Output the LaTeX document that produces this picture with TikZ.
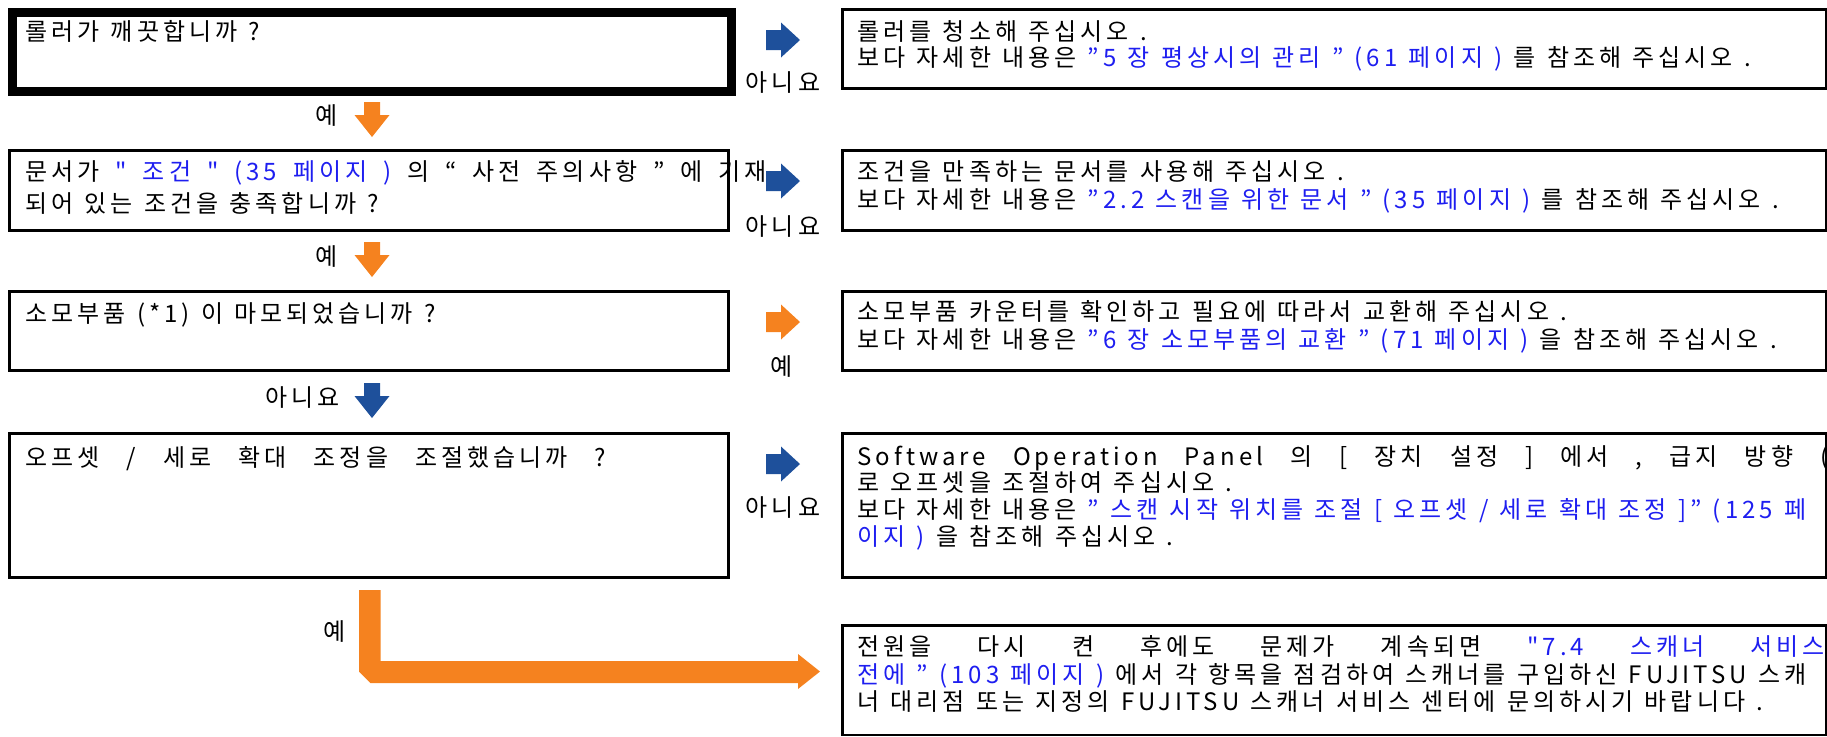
\documentclass[tikz,border=0pt]{standalone}
\usepackage{fontspec}
\setmainfont{Noto Sans CJK KR}[LetterSpace=16.7,WordSpace=1.2]
\newfontfamily\krtight{Noto Sans CJK KR}[LetterSpace=16.7,WordSpace=0.85]
\newfontfamily\krtighter{Noto Sans CJK KR}[LetterSpace=16.7,WordSpace=1.0]
\newfontfamily\krloose{Noto Sans CJK KR}[LetterSpace=16.7,WordSpace=1.7]
\definecolor{orangec}{RGB}{245,130,31}
\definecolor{bluearr}{RGB}{30,80,155}
\definecolor{linkblue}{RGB}{30,30,240}
\newcommand{\lk}[1]{\textcolor{linkblue}{#1}}
\newcommand{\txtfont}{\fontsize{12pt}{14pt}\selectfont}
\tikzset{
  qbox/.style={draw=black, line width=1.35pt, minimum width=359.5pt, inner sep=0pt, anchor=north west},
  thickbox/.style={qbox, line width=4.25pt},
  abox/.style={draw=black, line width=1.35pt, minimum width=492pt, inner sep=0pt, anchor=north west},
  tl/.style={anchor=base west, inner sep=0pt, font=\txtfont},
  tight/.style={font=\krtight\txtfont},
  tighter/.style={font=\krtighter\txtfont},
  loose/.style={font=\krloose\txtfont},
  lbl/.style={anchor=center, inner sep=0pt, font=\txtfont},
  dnarrow/.pic={\path[pic actions] (-8,0) -- ++(16,0) -- ++(0,13) -- ++(9.5,0) -- ++(-17.5,22) -- ++(-17.5,-22) -- ++(9.5,0) -- cycle;},
  rtarrow/.pic={\path[pic actions] (0,-10) -- ++(15,0) -- ++(0,-7.5) -- ++(19,17.5) -- ++(-19,17.5) -- ++(0,-7.5) -- ++(-15,0) -- cycle;}
}
\begin{document}
\begin{tikzpicture}[x=0.5pt,y=-0.5pt]
\useasboundingbox (0,0) rectangle (1827,736);

% left question boxes
\node[thickbox, minimum height=39.5pt] (q1) at (8,8) {};
\node[qbox, minimum height=40pt] (q2) at (8,149) {};
\node[qbox, minimum height=39.5pt] (q3) at (8,290) {};
\node[qbox, minimum height=72pt] (q4) at (8,432) {};

% right answer boxes
\node[abox, minimum height=39.5pt] (a1) at (841,8) {};
\node[abox, minimum height=40pt] (a2) at (841,149) {};
\node[abox, minimum height=39.5pt] (a3) at (841,290) {};
\node[abox, minimum height=72pt] (a4) at (841,432) {};
\node[abox, minimum height=54.75pt] (a5) at (841,624) {};

% texts of left boxes
\node[tl] (q1t) at (25,40.5) {롤러가 깨끗합니까 ?};
\node[tl, tighter] (q2t1) at (25,180.5) {문서가 \lk{" 조건 " (35 페이지 )} 의 “ 사전 주의사항 ” 에 기재};
\node[tl] (q2t2) at (25,212) {되어 있는 조건을 충족합니까 ?};
\node[tl] (q3t) at (25,322) {소모부품 (*1) 이 마모되었습니까 ?};
\node[tl, tight] (q4t) at (25,466.5) {오프셋 / 세로 확대 조정을 조절했습니까 ?};

% texts of right boxes
\node[tl] (a1t1) at (857,40.5) {롤러를 청소해 주십시오 .};
\node[tl] (a1t2) at (857,66) {보다 자세한 내용은 \lk{"5 장 평상시의 관리 " (61 페이지 )} 를 참조해 주십시오 .};
\node[tl] (a2t1) at (857,180.5) {조건을 만족하는 문서를 사용해 주십시오 .};
\node[tl] (a2t2) at (857,208.5) {보다 자세한 내용은 \lk{"2.2 스캔을 위한 문서 " (35 페이지 )} 를 참조해 주십시오 .};
\node[tl] (a3t1) at (857,320.5) {소모부품 카운터를 확인하고 필요에 따라서 교환해 주십시오 .};
\node[tl] (a3t2) at (857,348.5) {보다 자세한 내용은 \lk{"6 장 소모부품의 교환 " (71 페이지 )} 을 참조해 주십시오 .};
\node[tl, tight] (a4t1) at (857,465) {Software Operation Panel 의 [ 장치 설정 ] 에서 , 급지 방향 ( 세로 확대 조정 ) 으};
\node[tl] (a4t2) at (857,491.7) {로 오프셋을 조절하여 주십시오 .};
\node[tl] (a4t3) at (857,518.4) {보다 자세한 내용은 \lk{" 스캔 시작 위치를 조절 [ 오프셋 / 세로 확대 조정 ]" (125 페}};
\node[tl] (a4t4) at (857,545.1) {\lk{이지 )} 을 참조해 주십시오 .};
\node[tl, loose] (a5t1) at (857,655) {전원을 다시 켠 후에도 문제가 계속되면 \lk{"7.4 스캐너 서비스 공급업체에 연락하기}};
\node[tl] (a5t2) at (857,683) {\lk{전에 " (103 페이지 )} 에서 각 항목을 점검하여 스캐너를 구입하신 FUJITSU 스캐};
\node[tl] (a5t3) at (857,710) {너 대리점 또는 지정의 FUJITSU 스캐너 서비스 센터에 문의하시기 바랍니다 .};

% right arrows and labels
\pic[fill=bluearr] at (766,40) {rtarrow};
\node[lbl] (n1) at (783,83) {아니요};
\pic[fill=bluearr] at (766,181) {rtarrow};
\node[lbl] (n2) at (783,226.7) {아니요};
\pic[fill=orangec] at (766,322) {rtarrow};
\node[lbl] (y3) at (782,366) {예};
\pic[fill=bluearr] at (766,464) {rtarrow};
\node[lbl] (n4) at (783,507.5) {아니요};

% down arrows and labels
\pic[fill=orangec] at (372,102) {dnarrow};
\node[lbl] (y1) at (326.5,116) {예};
\pic[fill=orangec] at (372,242) {dnarrow};
\node[lbl] (y2) at (327,256.7) {예};
\pic[fill=bluearr] at (372,383) {dnarrow};
\node[lbl] (n3) at (302.5,397.5) {아니요};

% L-shaped arrow to last box
\coordinate (ls) at (359,590);
\coordinate (lt) at (820,671.5);
\fill[orangec] (ls) -- (380.5,590) -- (380.5,661) -- (798,661) -- (798,654) -- (lt) -- (798,689) -- (798,683) -- (370.5,683) -- (359,671.5) -- cycle;
\node[lbl] (y5) at (334.5,631.7) {예};
\end{tikzpicture}
\end{document}
